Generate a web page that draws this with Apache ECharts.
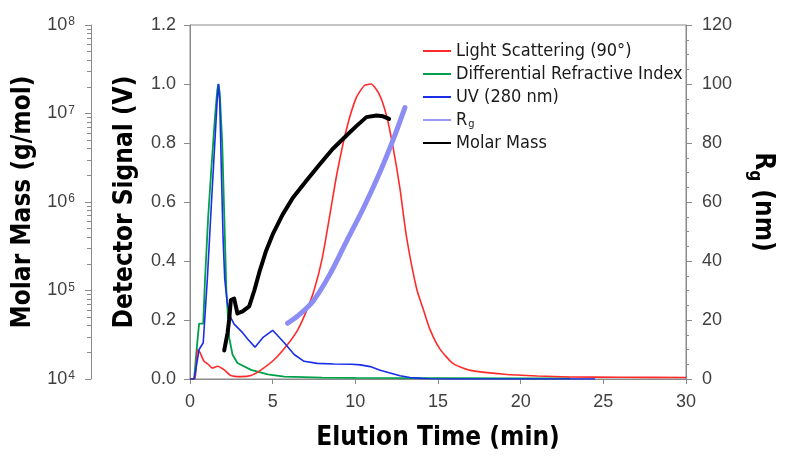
<!DOCTYPE html>
<html>
<head>
<meta charset="utf-8">
<script src="https://cdn.jsdelivr.net/npm/echarts@6/dist/echarts.min.js"></script>
<style>
  html, body { margin: 0; padding: 0; background: #fff; }
  #chart { width: 785px; height: 456px; }
</style>
</head>
<body>
<div id="chart"></div>
<script>
// light scattering (90°), detector signal in V
const lsTime = [0, 0.3, 0.45, 0.6, 0.85, 1.1, 1.35, 1.66, 2.07, 2.47, 3.08, 3.69, 4.3, 5.1, 5.9, 6.5, 7.0, 7.5, 8.0, 8.5, 8.9, 9.46, 10.05, 10.55, 10.95, 11.45, 11.9, 12.3, 12.7, 13.1, 13.71, 14.1, 14.5, 15.1, 15.9, 16.9, 19.0, 21.0, 23.0, 26, 30]
const lsSignal = [0, 0, 0.1, 0.09, 0.06, 0.05, 0.037, 0.043, 0.031, 0.012, 0.008, 0.012, 0.031, 0.066, 0.117, 0.165, 0.225, 0.30, 0.41, 0.57, 0.70, 0.846, 0.953, 0.995, 1.0, 0.965, 0.89, 0.78, 0.645, 0.48, 0.305, 0.238, 0.17, 0.103, 0.053, 0.03, 0.016, 0.01, 0.007, 0.006, 0.005]

// differential refractive index
const driTime = [0, 0.25, 0.4, 0.55, 0.8, 0.91, 1.1, 1.3, 1.5, 1.65, 1.72, 1.8, 1.95, 2.1, 2.2, 2.37, 2.57, 2.87, 3.69, 4.7, 5.7, 8, 10, 15, 20, 23]
const driSignal = [0, 0, 0.1, 0.188, 0.188, 0.34, 0.55, 0.72, 0.88, 0.98, 1.0, 0.97, 0.8, 0.5, 0.3, 0.14, 0.083, 0.054, 0.031, 0.016, 0.008, 0.005, 0.004, 0.003, 0.002, 0.002]

// UV (280 nm)
const uvTime = [0, 0.25, 0.4, 0.55, 0.8, 1.05, 1.3, 1.5, 1.65, 1.72, 1.8, 1.9, 2.0, 2.1, 2.25, 2.45, 2.67, 3.18, 3.5, 3.93, 4.4, 5.0, 5.7, 6.3, 6.9, 7.7, 8.7, 9.76, 10.3, 10.9, 11.5, 12.1, 12.7, 13.3, 14.0, 14.5, 15.5, 20, 24.5]
const uvSignal = [0, 0, 0.05, 0.1, 0.123, 0.34, 0.6, 0.8, 0.95, 1.0, 0.94, 0.7, 0.48, 0.34, 0.26, 0.21, 0.186, 0.157, 0.135, 0.108, 0.14, 0.165, 0.123, 0.083, 0.06, 0.053, 0.051, 0.05, 0.048, 0.042, 0.03, 0.02, 0.011, 0.005, 0.002, 0.001, 0, 0, 0]

// radius of gyration, nm
const rgTime = [5.9, 6.5, 7.43, 8.44, 9.45, 10.47, 11.48, 12.3, 13.0]
const rgValue = [18.9, 21.3, 26.3, 35.3, 46.5, 57.7, 70, 81.3, 92]

// molar mass, g/mol
const mmTime = [2.07, 2.27, 2.37, 2.47, 2.67, 2.87, 3.18, 3.58, 3.89, 4.19, 4.6, 5.0, 5.6, 6.2, 7.0, 7.8, 8.64, 9.45, 10.06, 10.67, 11.28, 11.68, 12.04]
const mmValue = [2.1e4, 3.3e4, 4.7e4, 7.8e4, 8.1e4, 5.5e4, 5.8e4, 6.6e4, 1.0e5, 1.6e5, 2.8e5, 4.3e5, 7.2e5, 1.1e6, 1.7e6, 2.6e6, 4.0e6, 5.6e6, 7.2e6, 9.1e6, 9.5e6, 9.3e6, 8.7e6]

// minor ticks of the log axis
const massMinorTicks = []
for (let e = 4; e < 8; e++) {
  for (let m = 2; m <= 9; m++) massMinorTicks.push(m * Math.pow(10, e))
}

const pairs = (xs, ys) => xs.map((x, i) => [x, ys[i]])

const tickFont = { fontFamily: 'Liberation Sans, Arial, sans-serif', fontSize: 18, color: '#404040' }
const titleFont = { fontFamily: 'DejaVu Sans Condensed, DejaVu Sans, sans-serif', fontSize: 26, fontWeight: 'bold', color: '#000' }
const axisGray = '#8a8a8a'

const chart = echarts.init(document.getElementById('chart'))

const option = {
  animation: false,
  backgroundColor: '#fff',
  grid: {
    left: 190, right: 99, top: 25, bottom: 74,
    show: true, borderColor: axisGray, borderWidth: 1
  },
  legend: {
    orient: 'vertical',
    left: 418,
    top: 36,
    itemWidth: 28,
    itemHeight: 2,
    itemGap: 3,
    icon: 'rect',
    textStyle: {
      fontFamily: 'DejaVu Sans Condensed, DejaVu Sans, sans-serif',
      fontSize: 18,
      lineHeight: 20,
      color: '#1a1a1a',
      rich: {
        sub: { fontSize: 11, verticalAlign: 'bottom', padding: [12, 0, 0, 1], fontFamily: 'DejaVu Sans Condensed, DejaVu Sans, sans-serif', color: '#1a1a1a' }
      }
    },
    formatter: name => name === 'Rg' ? 'R{sub|g}' : name,
    data: ['Light Scattering (90°)', 'Differential Refractive Index', 'UV (280 nm)', 'Rg', 'Molar Mass']
  },
  xAxis: {
    type: 'value',
    min: 0, max: 30, interval: 5,
    name: 'Elution Time (min)',
    nameLocation: 'middle',
    nameGap: 46,
    nameTextStyle: titleFont,
    axisLine: { lineStyle: { color: axisGray } },
    axisTick: { length: 5, lineStyle: { color: axisGray } },
    axisLabel: Object.assign({ margin: 14 }, tickFont),
    splitLine: { show: false }
  },
  yAxis: [
    {
      type: 'value',
      min: 0, max: 1.2, interval: 0.2,
      position: 'left',
      name: 'Detector Signal (V)',
      nameLocation: 'middle',
      nameGap: 52,
      nameTextStyle: titleFont,
      axisLine: { show: true, lineStyle: { color: axisGray } },
      axisTick: { show: true, length: 6, lineStyle: { color: axisGray } },
      axisLabel: Object.assign({ margin: 14, formatter: v => v.toFixed(1) }, tickFont),
      splitLine: { show: false }
    },
    {
      type: 'log',
      logBase: 10,
      min: 1e4, max: 1e8,
      position: 'left',
      offset: 99,
      name: 'Molar Mass (g/mol)',
      nameLocation: 'middle',
      nameGap: 51,
      nameTextStyle: titleFont,
      axisLine: { show: true, lineStyle: { color: axisGray } },
      axisTick: { show: true, length: 6, lineStyle: { color: axisGray } },
      axisLabel: {
        margin: 16,
        formatter: v => '{b|10}{s|' + Math.round(Math.log10(v)) + '}',
        rich: {
          b: { fontFamily: 'Liberation Sans, Arial, sans-serif', fontSize: 18, color: '#404040' },
          s: { fontFamily: 'Liberation Sans, Arial, sans-serif', fontSize: 12, color: '#404040', verticalAlign: 'top', padding: [0, 0, 6, 1] }
        }
      },
      splitLine: { show: false }
    },
    {
      type: 'value',
      min: 0, max: 120, interval: 20,
      position: 'right',
      name: 'R{sub|g} (nm)',
      nameLocation: 'middle',
      nameRotate: -90,
      nameGap: 60,
      nameTextStyle: Object.assign({
        rich: {
          sub: { fontFamily: 'DejaVu Sans Condensed, DejaVu Sans, sans-serif', fontSize: 17, fontWeight: 'bold', color: '#000', verticalAlign: 'bottom', padding: [16, 0, 0, 0] }
        }
      }, titleFont),
      axisLine: { show: true, lineStyle: { color: axisGray } },
      axisTick: { show: true, length: 6, lineStyle: { color: axisGray } },
      minorTick: { show: true, splitNumber: 4, length: 3, lineStyle: { color: axisGray } },
      axisLabel: Object.assign({ margin: 16 }, tickFont),
      splitLine: { show: false },
      minorSplitLine: { show: false }
    },
    {
      // overlay carrying the log minor ticks of the molar mass axis
      type: 'log',
      logBase: 10,
      min: 1e4, max: 1e8,
      position: 'left',
      offset: 99,
      axisLine: { show: false },
      axisTick: { show: true, length: 4, customValues: massMinorTicks, lineStyle: { color: axisGray } },
      axisLabel: { show: false },
      splitLine: { show: false }
    }
  ],
  series: [
    {
      name: 'Light Scattering (90°)',
      type: 'line',
      yAxisIndex: 0,
      showSymbol: false,
      smooth: 0.2,
      data: pairs(lsTime, lsSignal),
      lineStyle: { color: '#ff2b2b', width: 1.6 },
      itemStyle: { color: '#ff2b2b' },
      z: 3
    },
    {
      name: 'Differential Refractive Index',
      type: 'line',
      yAxisIndex: 0,
      showSymbol: false,
      data: pairs(driTime, driSignal),
      lineStyle: { color: '#00a04a', width: 1.8 },
      itemStyle: { color: '#00a04a' },
      z: 2
    },
    {
      name: 'UV (280 nm)',
      type: 'line',
      yAxisIndex: 0,
      showSymbol: false,
      data: pairs(uvTime, uvSignal),
      lineStyle: { color: '#1a2ee8', width: 1.6 },
      itemStyle: { color: '#1a2ee8' },
      z: 4
    },
    {
      name: 'Rg',
      type: 'line',
      yAxisIndex: 2,
      showSymbol: false,
      smooth: 0.3,
      data: pairs(rgTime, rgValue),
      lineStyle: { color: '#8c8cf5', width: 5, cap: 'round' },
      itemStyle: { color: '#9a9af5' },
      z: 5
    },
    {
      name: 'Molar Mass',
      type: 'line',
      yAxisIndex: 1,
      showSymbol: false,
      data: pairs(mmTime, mmValue),
      lineStyle: { color: '#000', width: 4, cap: 'round', join: 'round' },
      itemStyle: { color: '#000' },
      z: 6
    }
  ]
}

chart.setOption(option)
</script>
</body>
</html>
